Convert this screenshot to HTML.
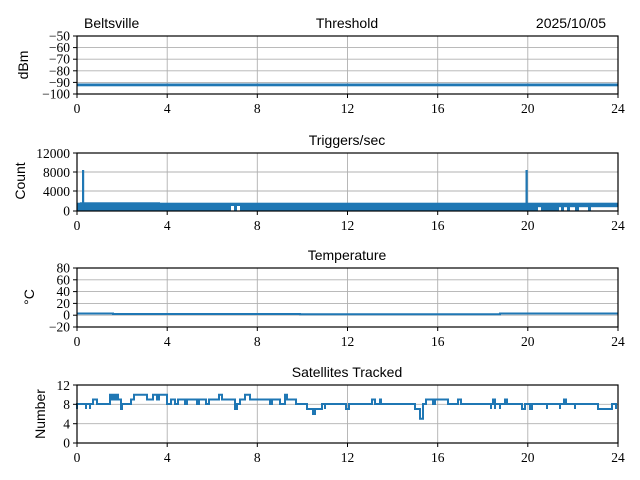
<!DOCTYPE html>
<html><head><meta charset="utf-8"><style>
html,body{margin:0;padding:0;background:#fff}
svg{display:block}
.t{font-family:"Liberation Sans",sans-serif;font-size:14px;fill:#000}
.k{font-family:"Liberation Serif",serif;font-size:13.5px;fill:#000}
.g{stroke:#b0b0b0;stroke-width:0.9}
.ax{fill:none;stroke:#000;stroke-width:1.2}
.s{stroke:#1f77b4;fill:none}
</style></head><body>
<svg width="640" height="480" viewBox="0 0 640 480" xmlns="http://www.w3.org/2000/svg">
<defs>
<g id="xg">
<line class="g" x1="167.2" x2="167.2" y1="0" y2="58"/><line class="g" x1="257.3" x2="257.3" y1="0" y2="58"/>
<line class="g" x1="347.5" x2="347.5" y1="0" y2="58"/><line class="g" x1="437.7" x2="437.7" y1="0" y2="58"/>
<line class="g" x1="527.8" x2="527.8" y1="0" y2="58"/>
</g>
<g id="xt">
<g stroke="#000" stroke-width="1"><line x1="77" x2="77" y1="58" y2="62"/><line x1="167.2" x2="167.2" y1="58" y2="62"/><line x1="257.3" x2="257.3" y1="58" y2="62"/><line x1="347.5" x2="347.5" y1="58" y2="62"/><line x1="437.7" x2="437.7" y1="58" y2="62"/><line x1="527.8" x2="527.8" y1="58" y2="62"/><line x1="618" x2="618" y1="58" y2="62"/></g>
<g class="k" text-anchor="middle"><text x="77" y="77">0</text><text x="167.2" y="77">4</text><text x="257.3" y="77">8</text><text x="347.5" y="77">12</text><text x="437.7" y="77">16</text><text x="527.8" y="77">20</text><text x="618" y="77">24</text></g>
</g>
</defs>

<!-- Panel 1 -->
<text class="t" x="84" y="28">Beltsville</text>
<text class="t" x="347" y="28" text-anchor="middle">Threshold</text>
<text class="t" x="606" y="28" text-anchor="end">2025/10/05</text>
<g transform="translate(0,36)">
<use href="#xg"/>
<g class="g"><line x1="77" x2="618" y1="11.6" y2="11.6"/><line x1="77" x2="618" y1="23.2" y2="23.2"/><line x1="77" x2="618" y1="34.8" y2="34.8"/><line x1="77" x2="618" y1="46.4" y2="46.4"/></g>
<rect x="77" y="47.5" width="541" height="2.8" fill="#1f77b4"/>
<rect class="ax" x="77" y="0" width="541" height="58"/>
<g stroke="#000"><line x1="73" x2="77" y1="0" y2="0"/><line x1="73" x2="77" y1="11.6" y2="11.6"/><line x1="73" x2="77" y1="23.2" y2="23.2"/><line x1="73" x2="77" y1="34.8" y2="34.8"/><line x1="73" x2="77" y1="46.4" y2="46.4"/><line x1="73" x2="77" y1="58" y2="58"/></g>
<g class="k" text-anchor="end"><text x="70" y="4.5">−50</text><text x="70" y="16">−60</text><text x="70" y="27.7">−70</text><text x="70" y="39.3">−80</text><text x="70" y="51">−90</text><text x="70" y="62.5">−100</text></g>
<use href="#xt"/>
</g>
<text class="t" transform="translate(28,65) rotate(-90)" text-anchor="middle">dBm</text>

<!-- Panel 2 -->
<text class="t" x="347" y="145" text-anchor="middle">Triggers/sec</text>
<g transform="translate(0,153)">
<use href="#xg"/>
<g class="g"><line x1="77" x2="618" y1="19" y2="19"/><line x1="77" x2="618" y1="38" y2="38"/></g>
<rect x="77" y="49.7" width="451" height="8.3" fill="#1f77b4"/>
<rect x="80" y="49" width="80" height="1" fill="#1f77b4" opacity="0.6"/>
<rect x="82" y="17" width="2.2" height="41" fill="#1f77b4"/>
<rect x="525.5" y="17" width="2.2" height="41" fill="#1f77b4"/>
<rect x="528" y="49.7" width="90" height="4.5" fill="#1f77b4"/>
<rect x="528" y="54" width="10" height="4" fill="#1f77b4"/><rect x="541" y="54" width="18" height="4" fill="#1f77b4"/>
<rect x="561" y="54" width="3" height="4" fill="#1f77b4"/><rect x="567" y="54" width="3" height="4" fill="#1f77b4"/>
<rect x="575" y="54" width="4" height="4" fill="#1f77b4"/><rect x="588" y="54" width="3" height="4" fill="#1f77b4"/>
<rect x="231" y="53" width="3" height="5" fill="#fff"/><rect x="237" y="53" width="3" height="5" fill="#fff"/>
<rect class="ax" x="77" y="0" width="541" height="58"/>
<g stroke="#000"><line x1="73" x2="77" y1="0" y2="0"/><line x1="73" x2="77" y1="19" y2="19"/><line x1="73" x2="77" y1="38" y2="38"/><line x1="73" x2="77" y1="58" y2="58"/></g>
<g class="k" text-anchor="end"><text x="70" y="5">12000</text><text x="70" y="24">8000</text><text x="70" y="43">4000</text><text x="70" y="62.5">0</text></g>
<use href="#xt"/>
</g>
<text class="t" transform="translate(25,181) rotate(-90)" text-anchor="middle">Count</text>

<!-- Panel 3 -->
<text class="t" x="347" y="260" text-anchor="middle">Temperature</text>
<g transform="translate(0,268)">
<use href="#xg"/>
<g class="g"><line x1="77" x2="618" y1="11.8" y2="11.8"/><line x1="77" x2="618" y1="23.6" y2="23.6"/><line x1="77" x2="618" y1="35.4" y2="35.4"/><line x1="77" x2="618" y1="47.2" y2="47.2"/></g>
<path class="s" stroke-width="2" d="M77 45.5 H113 V46 H300 V46.3 H500 V45.5 H618"/>
<rect class="ax" x="77" y="0" width="541" height="59"/>
<g stroke="#000"><line x1="73" x2="77" y1="0" y2="0"/><line x1="73" x2="77" y1="11.8" y2="11.8"/><line x1="73" x2="77" y1="23.6" y2="23.6"/><line x1="73" x2="77" y1="35.4" y2="35.4"/><line x1="73" x2="77" y1="47.2" y2="47.2"/><line x1="73" x2="77" y1="59" y2="59"/></g>
<g class="k" text-anchor="end"><text x="70" y="4.5">80</text><text x="70" y="16.3">60</text><text x="70" y="28">40</text><text x="70" y="40">20</text><text x="70" y="51.7">0</text><text x="70" y="63.5">−20</text></g>
<g transform="translate(0,1)"><use href="#xt"/></g>
</g>
<text class="t" transform="translate(34,297) rotate(-90)" text-anchor="middle">°C</text>

<!-- Panel 4 -->
<text class="t" x="347" y="377" text-anchor="middle">Satellites Tracked</text>
<g transform="translate(0,385)">
<use href="#xg"/>
<g class="g"><line x1="77" x2="618" y1="19.3" y2="19.3"/><line x1="77" x2="618" y1="38.7" y2="38.7"/></g>
<g transform="translate(0,-385)">
<path class="s" stroke-width="2" stroke-linejoin="miter" d="M77 409 V404 H86 V409 V404 H90 V409 V404 H93 V399.5 H97 V404 H110 V394.7 H112 V399.5 H113 V394.7 H114 V399.5 H116 V394.7 H118 V399.5 H121 V409 H122 V404 H131 V399.5 H134 V394.7 H147 V399.5 H153 V394.7 H157 V399.5 H159 V394.7 H167 V404 H171 V399.5 H175 V404 H178 V399.5 H185 V404 H187 V399.5 H197 V404 H199 V399.5 H206 V404 H209 V399.5 H219 V394.7 H222 V399.5 H235 V409 H237 V404 H240 V399.5 H245 V394.7 H250 V399.5 H270 V404 H272 V399.5 H280 V404 H285 V394.7 H287 V399.5 H296 V404 H307 V409 H313 V414 H315 V409 H322 V404 H325 V409 V404 H346 V409 H349 V404 H372 V399.5 H375 V404 H380 V399.5 H381 V404 H415 V409 H420 V418.8 H423 V404 H426 V399.5 H433 V404 H435 V399.5 H448 V404 H458 V399.5 H461 V404 H491 V409 V404 H493 V399.5 H495 V409 V404 H500 V409 V404 H505 V399.5 H507 V404 H522 V409 H525 V404 H530 V409 H532 V404 H547 V409 V404 H560 V409 V404 H564 V399.5 H566 V404 H575 V409 V404 H598 V409 H612 V404 H616 V409"/>
</g>
<rect class="ax" x="77" y="0" width="541" height="58"/>
<g stroke="#000"><line x1="73" x2="77" y1="0" y2="0"/><line x1="73" x2="77" y1="19.3" y2="19.3"/><line x1="73" x2="77" y1="38.7" y2="38.7"/><line x1="73" x2="77" y1="58" y2="58"/></g>
<g class="k" text-anchor="end"><text x="70" y="5">12</text><text x="70" y="24">8</text><text x="70" y="43.5">4</text><text x="70" y="62.5">0</text></g>
<use href="#xt"/>
</g>
<text class="t" transform="translate(45,414) rotate(-90)" text-anchor="middle">Number</text>
</svg>
</body></html>
